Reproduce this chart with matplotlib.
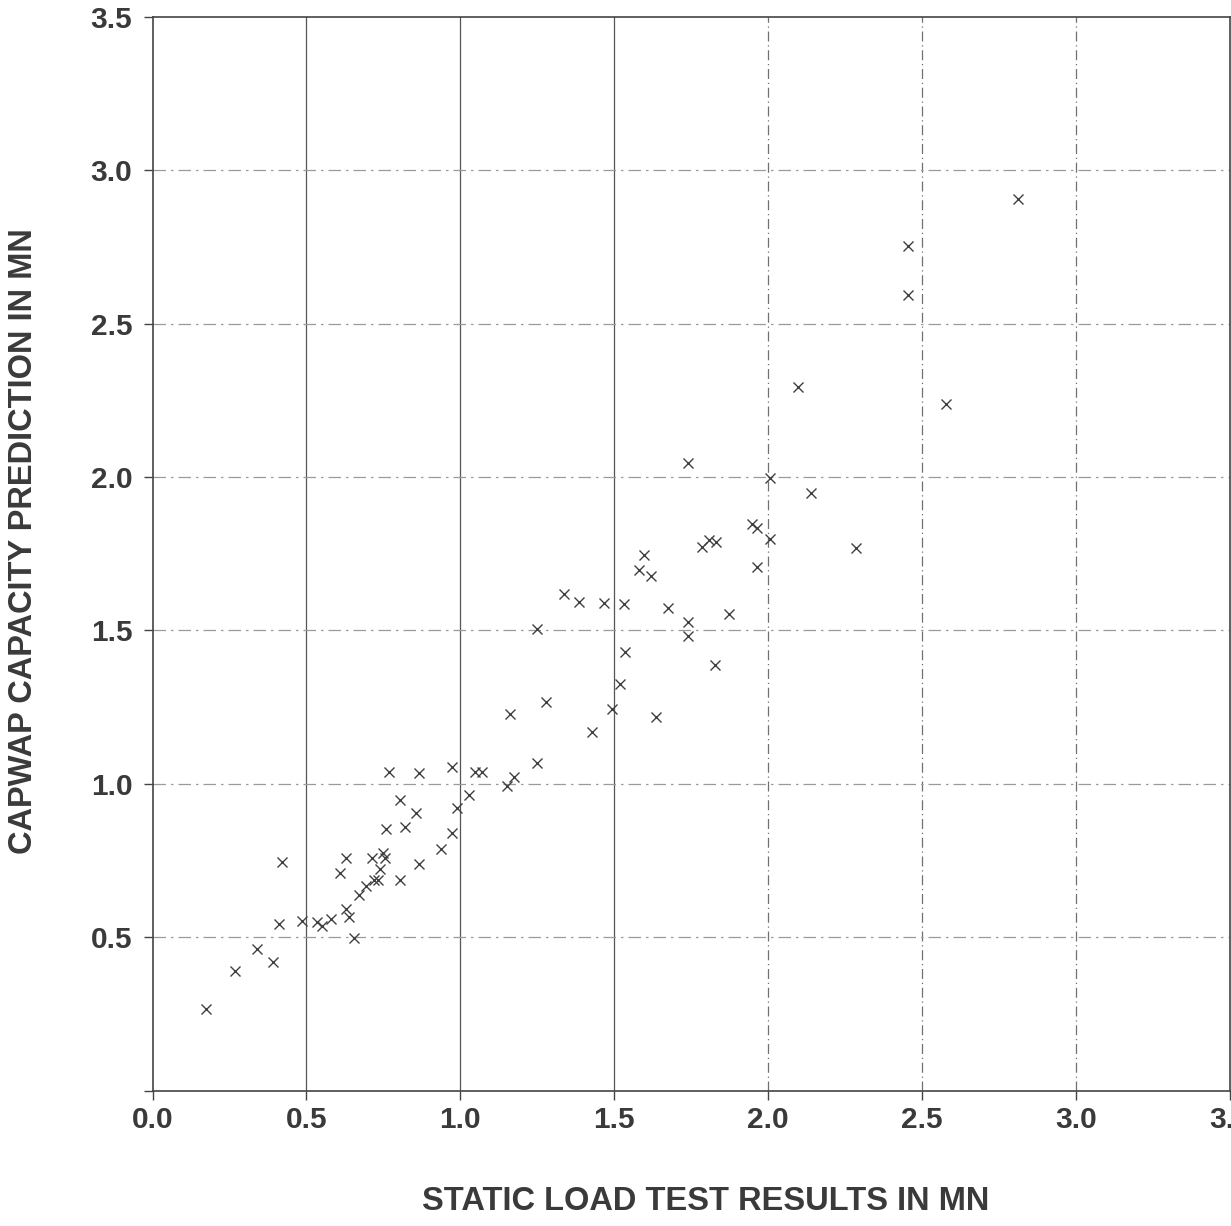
import matplotlib.pyplot as plt

# ========== 数据==========
static_load = [
    0.174, 0.268, 0.339, 0.391, 0.410, 0.420, 0.485, 0.534, 0.550, 0.579,
    0.628, 0.638, 0.654, 0.608, 0.628, 0.670, 0.693, 0.719, 0.732, 0.738,
    0.712, 0.748, 0.754, 0.758, 0.803, 0.820, 0.803, 0.855, 0.865, 0.767,
    0.865, 0.936, 0.972, 0.988, 0.972, 1.027, 1.046, 1.069, 1.150, 1.173,
    1.248, 1.160, 1.277, 1.248, 1.426, 1.491, 1.517, 1.536, 1.338, 1.384,
    1.465, 1.530, 1.579, 1.618, 1.673, 1.738, 1.738, 1.874, 1.828, 1.637,
    1.741, 2.007, 2.140, 1.948, 1.965, 1.786, 1.809, 1.832, 2.007, 1.965,
    2.286, 1.595, 2.812, 2.455, 2.455, 2.098, 2.578,
]
capwap = [
    0.266, 0.389, 0.461, 0.419, 0.542, 0.745, 0.552, 0.549, 0.536, 0.559,
    0.591, 0.565, 0.497, 0.709, 0.758, 0.637, 0.667, 0.686, 0.686, 0.722,
    0.758, 0.774, 0.758, 0.852, 0.686, 0.859, 0.947, 0.905, 0.738, 1.038,
    1.035, 0.787, 0.839, 0.921, 1.054, 0.963, 1.038, 1.038, 0.993, 1.022,
    1.068, 1.227, 1.266, 1.504, 1.168, 1.243, 1.325, 1.429, 1.618, 1.592,
    1.589, 1.586, 1.697, 1.677, 1.573, 1.528, 1.482, 1.554, 1.387, 1.217,
    2.046, 1.997, 1.948, 1.847, 1.834, 1.772, 1.795, 1.788, 1.798, 1.706,
    1.768, 1.746, 2.905, 2.752, 2.593, 2.293, 2.238,
]
x_ticks = [0.0, 0.5, 1.0, 1.5, 2.0, 2.5, 3.0, 3.5]
x_tick_labels = ["0.0", "0.5", "1.0", "1.5", "2.0", "2.5", "3.0", "3.5"]
y_ticks = [0.0, 0.5, 1.0, 1.5, 2.0, 2.5, 3.0, 3.5]
y_tick_labels = ["", "0.5", "1.0", "1.5", "2.0", "2.5", "3.0", "3.5"]

# ========== 样式 ==========
plt.rcParams["font.family"] = ["Liberation Sans", "DejaVu Sans"]
plt.rcParams["font.weight"] = "bold"
text_color = "#3a3a3a"
W, H = 1231, 1226

fig = plt.figure(figsize=(W / 100, H / 100), dpi=100)
ax = fig.add_axes([152.5 / W, 1 - 1090.5 / H, 1077.5 / W, 1073.8 / H])

# 网格：竖线（左半部实线，右半部点划线），横线点划线
for xv in x_ticks[1:-1]:
    if xv <= 1.5:
        ax.axvline(xv, color="#555555", lw=0.9, ls="-", zorder=0)
    else:
        ax.axvline(xv, color="#707070", lw=0.9, ls=(0, (8, 3, 1, 3)), zorder=0)
for yv in y_ticks[1:-1]:
    ax.axhline(yv, color="#9a9a9a", lw=0.9, ls=(0, (10, 4, 2, 4)), zorder=0)

ax.plot(static_load, capwap, ls="none", marker="x", ms=7.8, mew=1.0,
        color="#404040", zorder=3)

ax.set_xlim(0, 3.5)
ax.set_ylim(0, 3.5)
ax.set_xticks(x_ticks)
ax.set_xticklabels(x_tick_labels)
ax.set_yticks(y_ticks)
ax.set_yticklabels(y_tick_labels)

for sp in ax.spines.values():
    sp.set_color("#444444")
    sp.set_linewidth(1.2)

ax.tick_params(axis="x", direction="out", length=6.5, width=1.0, pad=5,
               labelsize=21.5, colors="#444444", labelcolor=text_color)
ax.tick_params(axis="y", direction="out", length=6.5, width=1.0, pad=8,
               labelsize=21.5, colors="#444444", labelcolor=text_color)
for lab in ax.get_xticklabels() + ax.get_yticklabels():
    lab.set_fontweight("bold")

fig.text(705.5 / W, 1 - 1201 / H, "STATIC LOAD TEST RESULTS IN MN",
         ha="center", va="center", fontsize=23.5, fontweight="bold",
         color=text_color)
fig.text(23.5 / W, 1 - 541 / H, "CAPWAP CAPACITY PREDICTION IN MN",
         ha="center", va="center", rotation=90, fontsize=23.5,
         fontweight="bold", color=text_color)

fig.savefig("out.png", dpi=100)
